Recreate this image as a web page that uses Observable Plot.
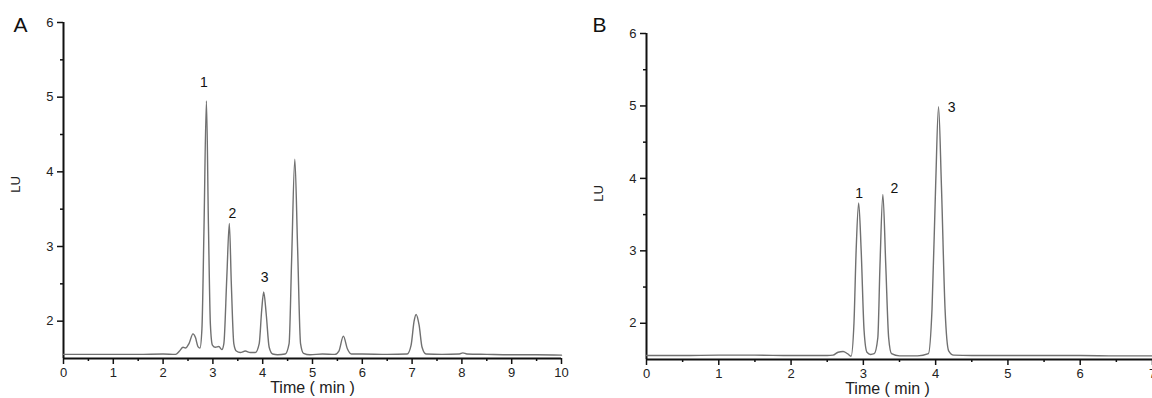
<!DOCTYPE html>
<html>
<head>
<meta charset="utf-8">
<script src="https://cdn.jsdelivr.net/npm/d3@7"></script>
<script src="https://cdn.jsdelivr.net/npm/@observablehq/plot@0.6"></script>
<style>
  html, body { margin: 0; padding: 0; background: #fff; }
  #wrap { display: flex; width: 1152px; height: 398px; overflow: hidden; }
  #wrap svg { flex: none; }
</style>
</head>
<body>
<div id="wrap"></div>
<script>
// ---------- Panel A data ----------
const timeA = [0, 0.5, 1.0, 1.5, 2.0, 2.25, 2.33, 2.4, 2.45, 2.52, 2.6, 2.65, 2.7, 2.74, 2.78, 2.82, 2.87, 2.91, 2.95, 2.99,
  3.05, 3.12, 3.18, 3.22, 3.28, 3.33, 3.37, 3.42, 3.47, 3.55, 3.65, 3.75, 3.85, 3.93, 3.98, 4.02, 4.07, 4.13, 4.2, 4.3,
  4.45, 4.53, 4.58, 4.645, 4.7, 4.76, 4.82, 4.95, 5.2, 5.45, 5.53, 5.62, 5.7, 5.78, 6.0, 6.5, 6.9, 6.98, 7.04, 7.08,
  7.14, 7.2, 7.28, 7.6, 7.95, 8.02, 8.1, 8.5, 9.0, 9.5, 10];
const luA = [1.555, 1.555, 1.555, 1.555, 1.56, 1.555, 1.6, 1.65, 1.64, 1.7, 1.83, 1.78, 1.66, 1.64, 1.9, 3.2, 4.95, 3.3, 1.95, 1.68,
  1.65, 1.66, 1.62, 1.7, 2.6, 3.31, 2.5, 1.7, 1.6, 1.58, 1.6, 1.58, 1.58, 1.7, 2.15, 2.39, 2.1, 1.65, 1.56, 1.55,
  1.56, 1.7, 2.8, 4.17, 3.0, 1.7, 1.57, 1.55, 1.56, 1.555, 1.6, 1.8, 1.63, 1.56, 1.56, 1.555, 1.56, 1.68, 2.0, 2.09,
  1.95, 1.65, 1.56, 1.555, 1.56, 1.575, 1.56, 1.555, 1.55, 1.55, 1.545];
const peakLabelsA = ["1", "2", "3"];
const peakLabelTimeA = [2.82, 3.39, 4.04];
const peakLabelLUA = [5.19, 3.44, 2.58];
const xTicksA = [0, 1, 2, 3, 4, 5, 6, 7, 8, 9, 10];
const xMinorA = [0.5, 1.5, 2.5, 3.5, 4.5, 5.5, 6.5, 7.5, 8.5, 9.5];

// ---------- Panel B data ----------
const timeB = [0, 0.5, 1.0, 1.5, 2.0, 2.5, 2.58, 2.65, 2.72, 2.78, 2.83, 2.87, 2.9, 2.935, 2.97, 3.01, 3.05, 3.1, 3.15, 3.2,
  3.23, 3.27, 3.31, 3.35, 3.39, 3.5, 3.75, 3.9, 3.95, 4.0, 4.04, 4.08, 4.13, 4.18, 4.25, 4.5, 5, 5.5, 6, 6.5, 7];
const luB = [1.555, 1.555, 1.56, 1.56, 1.555, 1.555, 1.56, 1.6, 1.61, 1.58, 1.545, 2.0, 3.0, 3.66, 3.0, 1.9, 1.6, 1.57, 1.58, 1.8,
  2.8, 3.78, 2.8, 1.8, 1.58, 1.55, 1.55, 1.58, 2.2, 3.9, 4.99, 3.9, 2.2, 1.62, 1.56, 1.555, 1.555, 1.555, 1.555, 1.55, 1.55];
const peakLabelsB = ["1", "2", "3"];
const peakLabelTimeB = [2.94, 3.43, 4.22];
const peakLabelLUB = [3.79, 3.86, 4.98];
const xTicksB = [0, 1, 2, 3, 4, 5, 6, 7];
const xMinorB = [0.5, 1.5, 2.5, 3.5, 4.5, 5.5, 6.5];

// ---------- shared ----------
const yTicks = [2, 3, 4, 5, 6];
const yMinor = [2.5, 3.5, 4.5, 5.5];
const yDomain = [1.5, 6];
const xLabel = "Time ( min )";
const yLabel = "LU";

const FONT = "'Liberation Sans', Arial, Helvetica, sans-serif";

function panel(opts) {
  const {time, lu, xDomain, xTicks, xMinor, labels, labelTime, labelLU, letter,
         width, marginLeft, marginRight, marginTop, marginBottom, xLabelDx, yLabelDy, letterDx, letterDy} = opts;
  const series = time.map((t, i) => ({t, v: lu[i]}));
  const peaks = labels.map((s, i) => ({s, t: labelTime[i], v: labelLU[i]}));
  return Plot.plot({
    width, height: 398, marginLeft, marginRight, marginTop, marginBottom,
    style: {fontFamily: FONT, fontSize: "13px", background: "#fff"},
    x: {domain: xDomain},
    y: {domain: yDomain},
    marks: [
      Plot.axisX({ticks: xTicks, tickSize: 6, tickPadding: 3, tickFormat: d => String(d), label: null,
                  fill: "#222", stroke: "#111", strokeWidth: 1.5, fontSize: 13}),
      Plot.axisX({ticks: xMinor, tickSize: 3, text: null, label: null, stroke: "#111", strokeWidth: 1.5}),
      Plot.axisY({ticks: yTicks, tickSize: 6, tickPadding: 4, tickFormat: d => String(d), label: null,
                  fill: "#222", stroke: "#111", strokeWidth: 1.5, fontSize: 13}),
      Plot.axisY({ticks: yMinor, tickSize: 3, text: null, label: null, stroke: "#111", strokeWidth: 1.5}),
      Plot.ruleY([yDomain[0]], {x1: xDomain[0], x2: xDomain[1], stroke: "#111", strokeWidth: 2}),
      Plot.ruleX([xDomain[0]], {y1: yDomain[0], y2: yDomain[1], stroke: "#111", strokeWidth: 2}),
      Plot.line(series, {x: "t", y: "v", curve: "monotone-x", stroke: "#707070", strokeWidth: 1.4}),
      Plot.text(peaks, {x: "t", y: "v", text: "s", fontSize: 14, fill: "#111"}),
      Plot.text([xLabel], {frameAnchor: "bottom", dy: 34, dx: xLabelDx, fontSize: 16, fill: "#222"}),
      Plot.text([yLabel], {frameAnchor: "left", textAnchor: "middle", lineAnchor: "middle", rotate: -90,
                           dx: -48, dy: yLabelDy, fontSize: 13, fill: "#222"}),
      Plot.text([letter], {frameAnchor: "top-left", textAnchor: "middle", lineAnchor: "middle",
                           dx: letterDx, dy: letterDy, fontSize: 21, fill: "#111"})
    ]
  });
}

const wrap = document.getElementById("wrap");
wrap.appendChild(panel({
  time: timeA, lu: luA, xDomain: [0, 10], xTicks: xTicksA, xMinor: xMinorA,
  labels: peakLabelsA, labelTime: peakLabelTimeA, labelLU: peakLabelLUA, letter: "A",
  width: 575, marginLeft: 63, marginRight: 14, marginTop: 22, marginBottom: 40,
  xLabelDx: 0, yLabelDy: -6, letterDx: -43, letterDy: 3
}));
wrap.appendChild(panel({
  time: timeB, lu: luB, xDomain: [0, 7], xTicks: xTicksB, xMinor: xMinorB,
  labels: peakLabelsB, labelTime: peakLabelTimeB, labelLU: peakLabelLUB, letter: "B",
  width: 577, marginLeft: 71, marginRight: 0, marginTop: 33, marginBottom: 39,
  xLabelDx: -12, yLabelDy: -3, letterDx: -47, letterDy: -8
}));
</script>
</body>
</html>
